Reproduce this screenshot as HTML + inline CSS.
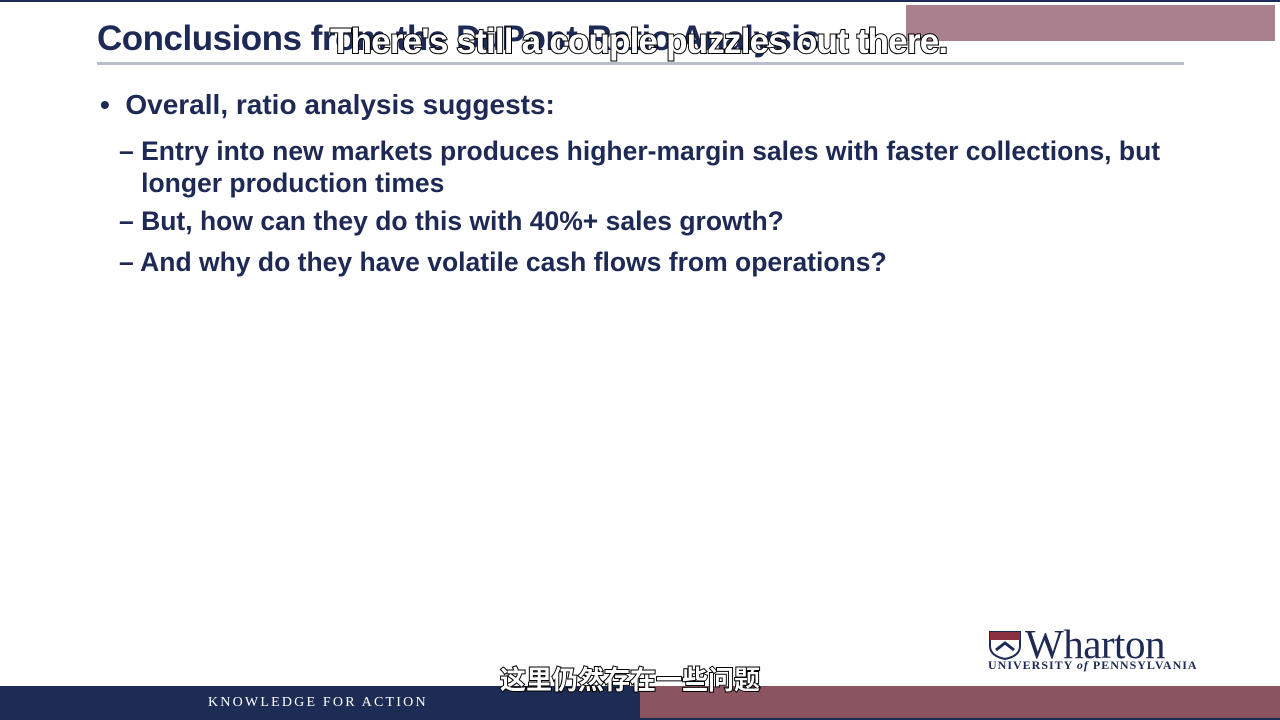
<!DOCTYPE html>
<html><head><meta charset="utf-8"><style>
body{margin:0;width:1280px;height:720px;overflow:hidden;background:#fff;position:relative;font-family:"Liberation Sans",Arial,sans-serif}
div{position:absolute}
.b{color:#1e2a55;font-weight:bold}
.outline{color:#fff;font-weight:bold;-webkit-text-stroke:2px #000;paint-order:stroke fill}
</style></head><body>
<div style="left:0;top:0;width:1280px;height:2px;background:#1c2c55"></div>
<div style="left:906px;top:5px;width:369px;height:36px;background:#9a6a7a;opacity:.85"></div>
<div class="b" style="left:97px;top:19px;font-size:35px;letter-spacing:-0.5px;white-space:nowrap">Conclusions from the DuPont Ratio Analysis</div>
<div class="outline" style="left:330px;top:22px;font-size:35px;letter-spacing:-0.8px;white-space:nowrap">There's still a couple puzzles out there.</div>
<div style="left:97px;top:62px;width:1087px;height:3px;background:#b8bccb"></div>
<div class="b" style="left:100px;top:89px;font-size:28px;white-space:nowrap">•&nbsp; Overall, ratio analysis suggests:</div>
<div class="b" style="left:119px;top:135px;font-size:26.5px;line-height:32px;width:1100px;white-space:nowrap">– Entry into new markets produces higher-margin sales with faster collections, but<br>&nbsp;&nbsp;&nbsp;longer production times</div>
<div class="b" style="left:119px;top:206px;font-size:26.5px;white-space:nowrap">– But, how can they do this with 40%+ sales growth?</div>
<div class="b" style="left:119px;top:247px;font-size:26.5px;white-space:nowrap">– And why do they have volatile cash flows from operations?</div>
<div style="left:988px;top:628px;width:205px;height:45px">
 <svg width="34" height="30" style="position:absolute;left:0;top:2px"><path d="M2 2H32V16Q32 26 17 29Q2 26 2 16Z" fill="#fff" stroke="#1e2a55" stroke-width="2"/><rect x="2" y="2" width="30" height="8" fill="#8a3040"/><path d="M8 20L17 13L26 20" stroke="#1e2a55" stroke-width="3" fill="none"/></svg>
 <div style="left:37px;top:-8px;font-family:'Liberation Serif',serif;font-size:41px;color:#1e2a55;letter-spacing:-0.5px">Wharton</div>
 <div style="left:0;top:30px;font-family:'Liberation Serif',serif;font-size:12px;color:#1e2a55;letter-spacing:1px;white-space:nowrap;font-weight:bold">UNIVERSITY <i>of</i> PENNSYLVANIA</div>
</div>
<div style="left:0;top:686px;width:640px;height:34px;background:#1c2c55"></div>
<div style="left:640px;top:686px;width:640px;height:32px;background:#8a5560"></div>
<div style="left:640px;top:718px;width:640px;height:2px;background:#1c2c55"></div>
<div style="left:208px;top:695px;font-family:'Liberation Serif',serif;font-size:14px;letter-spacing:2.2px;color:#fff">KNOWLEDGE FOR ACTION</div>
<div class="outline" style="left:500px;top:660px;font-size:26px;font-family:'Liberation Sans','Noto Sans CJK SC',sans-serif;white-space:nowrap">这里仍然存在一些问题</div>
</body></html>
